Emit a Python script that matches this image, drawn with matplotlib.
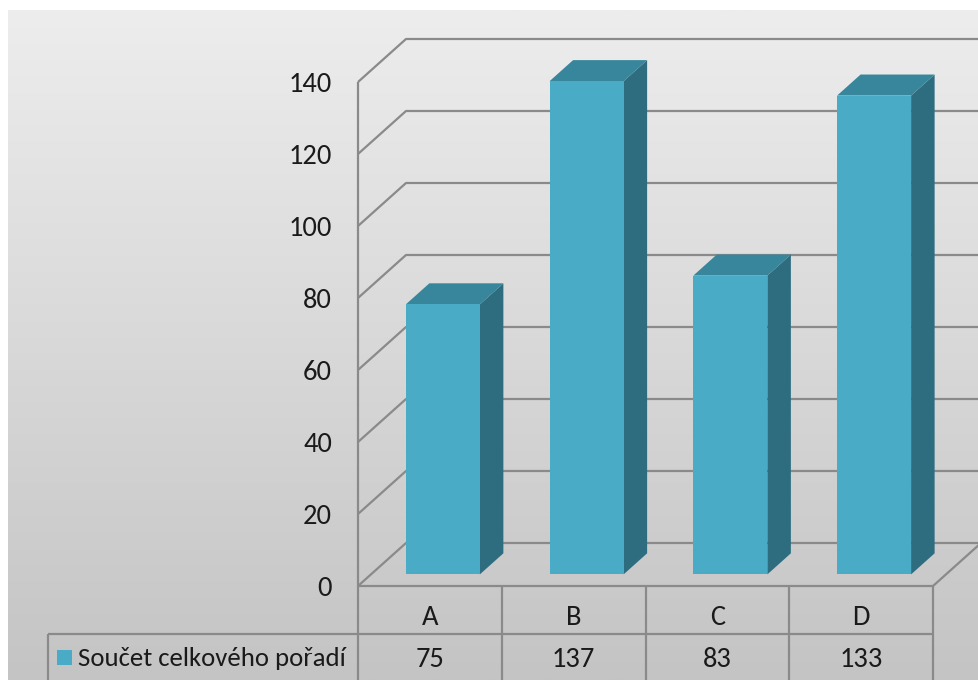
import numpy as np
import matplotlib
matplotlib.use("Agg")
import matplotlib.pyplot as plt
from matplotlib.patches import Polygon, Rectangle
from matplotlib.lines import Line2D
from matplotlib.transforms import IdentityTransform
from matplotlib.colors import LinearSegmentedColormap

# ---- data ----
categories = ["A", "B", "C", "D"]
values = [75, 137, 83, 133]
series_name = "Součet celkového pořadí"
y_ticks = [0, 20, 40, 60, 80, 100, 120, 140]

# ---- style ----
W, H, DPI = 979, 680, 100
FONT = ["Carlito", "DejaVu Sans"]
FS = 20.5
FS_LEGEND = 19.3
TXT = "#1a1a1a"
GRID = "#8a8a8a"
FRONT, TOP, SIDE = "#4aabc7", "#37869b", "#2e6d80"
DX, DY = 48, 43           # depth offset of the back wall, in pixels
BAR_W = 0.515             # bar width in category units
D0, D1 = 0.27, 0.76       # bar front/back depth fractions

plt.rcParams["font.family"] = FONT

fig = plt.figure(figsize=(W / DPI, H / DPI), dpi=DPI)
fig.patch.set_facecolor("white")

# background panel with vertical gradient
bg = fig.add_axes([0, 0, 1, 1])
bg.set_xlim(0, W)
bg.set_ylim(H, 0)
bg.axis("off")
grad = np.linspace(0, 1, 256)[:, None]
cmap = LinearSegmentedColormap.from_list("panel", ["#ededed", "#c4c4c4"])
bg.imshow(grad, cmap=cmap, extent=[8, W, H, 10], aspect="auto", zorder=0)

# value axes: front plane of the 3-D box
ax = fig.add_axes([358 / W, (H - 586) / H, 575 / W, (586 - 82) / H])
ax.set_xlim(-0.5, len(categories) - 0.5)
ax.set_ylim(0, max(y_ticks))
ax.axis("off")
ax.patch.set_alpha(0)

ID = IdentityTransform()


def pt(x, v, d=0.0):
    px, py = ax.transData.transform((x, v))
    return (px + d * DX, py + d * DY)


def line(points, **kw):
    xs, ys = zip(*points)
    ax.add_line(Line2D(xs, ys, transform=ID, clip_on=False,
                       color=GRID, lw=1.6, solid_capstyle="butt", **kw))


x_lo, x_hi = -0.5, len(categories) - 0.5

# gridlines on side wall and back wall
for t in y_ticks:
    line([pt(x_lo, t, 0), pt(x_lo, t, 1), pt(x_hi, t, 1)], zorder=2)
# front value axis and floor edges
line([pt(x_lo, 0, 0), pt(x_lo, max(y_ticks), 0)], zorder=2)
line([pt(x_lo, 0, 0), pt(x_hi, 0, 0)], zorder=2)
line([pt(x_hi, 0, 0), pt(x_hi, 0, 1)], zorder=2)

# 3-D columns
for i, v in enumerate(values):
    l, r = i - BAR_W / 2, i + BAR_W / 2
    front = [pt(l, 0, D0), pt(r, 0, D0), pt(r, v, D0), pt(l, v, D0)]
    side = [pt(r, 0, D0), pt(r, 0, D1), pt(r, v, D1), pt(r, v, D0)]
    top = [pt(l, v, D0), pt(r, v, D0), pt(r, v, D1), pt(l, v, D1)]
    for poly, c in ((side, SIDE), (top, TOP), (front, FRONT)):
        ax.add_patch(Polygon(poly, closed=True, facecolor=c, edgecolor="none",
                             transform=ID, clip_on=False, zorder=3))

# y tick labels
for t in y_ticks:
    x0, y0 = pt(x_lo, t, 0)
    ax.text(x0 - 26, y0, str(t), transform=ID, ha="right", va="center_baseline",
            fontsize=FS, color=TXT, clip_on=False)

# data table below the plot
ROW = 48
top_y = pt(x_lo, 0, 0)[1]
mid_y = top_y - ROW
bot_y = mid_y - ROW - 4
legend_left = 48
right_x = pt(x_hi, 0, 0)[0]
line([(legend_left, mid_y), (right_x, mid_y)], zorder=4)
line([(legend_left, mid_y), (legend_left, bot_y)], zorder=4)
for k in range(len(categories) + 1):
    xb = pt(x_lo + k, 0, 0)[0]
    line([(xb, top_y), (xb, bot_y)], zorder=4)

for i, (c, v) in enumerate(zip(categories, values)):
    xc = pt(i, 0, 0)[0]
    ax.text(xc, top_y - 29, c, transform=ID, ha="center", va="center_baseline",
            fontsize=FS, color=TXT, clip_on=False)
    ax.text(xc, mid_y - 23, str(v), transform=ID, ha="center", va="center_baseline",
            fontsize=FS, color=TXT, clip_on=False)

# legend key and series name in the row header
ax.add_patch(Rectangle((57, mid_y - 31), 15, 15, facecolor=FRONT, edgecolor="none",
                       transform=ID, clip_on=False, zorder=5))
ax.text(78, mid_y - 23, series_name, transform=ID, ha="left", va="center_baseline",
        fontsize=FS_LEGEND, color=TXT, clip_on=False)

fig.savefig("out.png", dpi=DPI)
